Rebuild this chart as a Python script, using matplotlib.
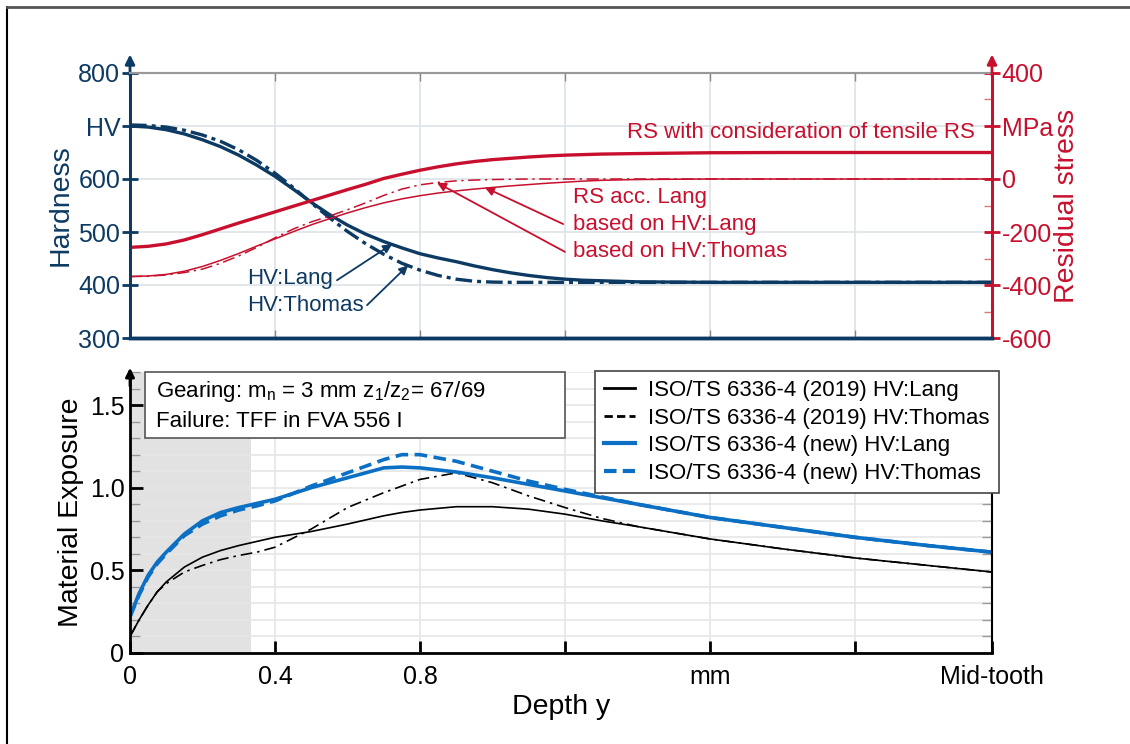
import numpy as np
import matplotlib
matplotlib.use("Agg")
from matplotlib import pyplot as plt
from matplotlib.lines import Line2D
from matplotlib.patches import Rectangle
from matplotlib.ticker import MultipleLocator

plt.rcParams['font.family'] = ['Liberation Sans', 'DejaVu Sans']
plt.rcParams['mathtext.fontset'] = 'custom'
plt.rcParams['mathtext.rm'] = 'Liberation Sans'

navy = '#0d3a63'
red = '#c8102e'
blue = '#0b6fc4'

# ---- top panel data: hardness (HV) and residual stress (MPa) over depth (mm)
depth_top = [0, 0.05, 0.1, 0.15, 0.2, 0.25, 0.3, 0.35, 0.4, 0.45, 0.5, 0.55, 0.6, 0.65, 0.7, 0.75,
             0.8, 0.85, 0.9, 0.95, 1.0, 1.05, 1.1, 1.15, 1.2, 1.25, 1.3, 1.4, 1.6, 1.8, 2.0, 2.378]
hv_lang = [700, 698, 693, 685, 674, 661, 645, 626, 605, 581, 556, 533, 513, 496, 482, 470,
           459, 451, 444, 436, 429, 423, 418, 414, 411, 409, 408, 406, 405, 405, 405, 405]
hv_thomas = [702, 701, 698, 692, 683, 671, 655, 635, 611, 584, 555, 527, 501, 478, 458, 441,
             428, 418, 411, 407, 405.5, 405, 405, 405, 405, 405, 405, 405, 405, 405, 405, 405]
rs_tensile = [-258, -254, -245, -230, -210, -188, -166, -145, -124, -103, -82, -61, -40, -20, 2, 18,
              33, 46, 57, 66, 73, 78, 83, 87, 90, 92, 94, 96, 99, 100, 100, 100]
rs_lang = [-368, -366, -360, -348, -330, -307, -281, -253, -226, -199, -173, -150, -128, -108, -90, -75,
           -63, -53, -45, -38, -32, -26, -21, -16, -12, -8, -5, -2, 0, 0, 0, 0]
rs_thomas = [-368, -367, -362, -353, -340, -318, -290, -258, -222, -189, -162, -140, -116, -90, -62, -38,
             -22, -13, -7, -4, -2, -1, 0, 0, 0, 0, 0, 0, 0, 0, 0, 0]

# ---- bottom panel data: material exposure over depth
depth = [0, 0.025, 0.05, 0.075, 0.1, 0.15, 0.2, 0.25, 0.3, 0.35, 0.4, 0.5, 0.6, 0.7, 0.75,
         0.8, 0.9, 1.0, 1.1, 1.2, 1.3, 1.4, 1.6, 1.8, 2.0, 2.2, 2.378]
me_2019_lang = [0.10, 0.20, 0.29, 0.37, 0.43, 0.52, 0.58, 0.62, 0.65, 0.675, 0.70, 0.735, 0.78, 0.83, 0.85,
                0.865, 0.885, 0.885, 0.87, 0.84, 0.80, 0.765, 0.69, 0.63, 0.575, 0.53, 0.49]
me_2019_thomas = [0.10, 0.20, 0.29, 0.37, 0.42, 0.49, 0.53, 0.565, 0.59, 0.61, 0.64, 0.75, 0.88, 0.97, 1.01,
                  1.05, 1.09, 1.03, 0.95, 0.88, 0.815, 0.765, 0.69, 0.63, 0.575, 0.53, 0.49]
me_new_lang = [0.22, 0.36, 0.47, 0.55, 0.61, 0.72, 0.80, 0.85, 0.88, 0.905, 0.93, 1.0, 1.06, 1.12, 1.125,
               1.12, 1.095, 1.06, 1.02, 0.98, 0.94, 0.90, 0.82, 0.76, 0.70, 0.65, 0.61]
me_new_thomas = [0.22, 0.35, 0.46, 0.54, 0.60, 0.71, 0.78, 0.83, 0.865, 0.89, 0.92, 1.01, 1.09, 1.17, 1.20,
                 1.20, 1.16, 1.10, 1.04, 0.99, 0.945, 0.90, 0.82, 0.76, 0.70, 0.65, 0.61]

x_ticks = [0, 0.4, 0.8, 1.2, 1.6, 2.0, 2.378]
x_labels = ['0', '0.4', '0.8', '', 'mm', '', 'Mid-tooth']
legend_labels = ['ISO/TS 6336-4 (2019) HV:Lang', 'ISO/TS 6336-4 (2019) HV:Thomas',
                 'ISO/TS 6336-4 (new) HV:Lang', 'ISO/TS 6336-4 (new) HV:Thomas']

W, H = 1130, 744
fig = plt.figure(figsize=(W / 100, H / 100), dpi=100)

def fx(px):
    return px / W

def fy(py):
    return 1 - py / H

# ================= top panel =================
ax1 = fig.add_axes([fx(130), fy(338), fx(992) - fx(130), fy(73) - fy(338)])
ax1r = ax1.twinx()
ax1.set_xlim(0, 2.378)
ax1.set_ylim(300, 800)
ax1r.set_ylim(-600, 400)

ax1.plot(depth_top, hv_lang, color=navy, lw=2.4, solid_capstyle='butt', zorder=3)
ax1.plot(depth_top, hv_thomas, color=navy, lw=2.4, ls=(0, (5, 1.5, 1.2, 1.5)), zorder=3)
ax1r.plot(depth_top, rs_tensile, color=red, lw=2.4)
ax1r.plot(depth_top, rs_lang, color=red, lw=1.1)
ax1r.plot(depth_top, rs_thomas, color=red, lw=1.1, ls=(0, (8, 3, 1.5, 3)))

ax1.set_yticks([300, 400, 500, 600, 700, 800])
ax1.set_yticklabels(['300', '400', '500', '600', 'HV', '800'])
ax1.set_xticks([0.4, 0.8, 1.2, 1.6, 2.0])
ax1.set_xticklabels([])
ax1.tick_params(axis='y', direction='inout', length=12, width=2, color=navy,
                labelcolor=navy, labelsize=18, pad=1)
ax1.tick_params(axis='x', direction='in', length=6, width=1, color='#888888', top=True)
ax1.grid(True, color='#dde3e8', lw=1.2)
ax1.set_axisbelow(True)
ax1.set_ylabel('Hardness', color=navy, fontsize=20.5, labelpad=3)

ax1r.set_yticks([-600, -400, -200, 0, 200, 400])
ax1r.set_yticklabels(['-600', '-400', '-200', '0', 'MPa', '400'])
ax1r.yaxis.set_minor_locator(MultipleLocator(100))
ax1r.tick_params(axis='y', which='major', direction='inout', length=12, width=2, color=red,
                 labelcolor=red, labelsize=18, pad=1)
ax1r.tick_params(axis='y', which='minor', direction='in', length=6, width=1, color='#d77')
ax1r.set_ylabel('Residual stress', color=red, fontsize=20.5, labelpad=1)

for a in (ax1, ax1r):
    a.spines['top'].set_color('#999999')
    a.spines['top'].set_linewidth(1.5)
    a.spines['bottom'].set_color(navy)
    a.spines['bottom'].set_linewidth(2.5)
    a.spines['left'].set_color(navy)
    a.spines['left'].set_linewidth(2)
    a.spines['right'].set_color(red)
    a.spines['right'].set_linewidth(2)

ax1.annotate('', xy=(0, 1.07), xytext=(0, 0.99), xycoords='axes fraction',
             arrowprops=dict(arrowstyle='-|>', color=navy, lw=2, mutation_scale=14, shrinkA=0, shrinkB=0))
ax1r.annotate('', xy=(1, 1.07), xytext=(1, 0.99), xycoords='axes fraction',
              arrowprops=dict(arrowstyle='-|>', color=red, lw=2, mutation_scale=14, shrinkA=0, shrinkB=0))

# annotations
ax1r.text(2.331, 174, 'RS with consideration of tensile RS', color=red, fontsize=16,
          ha='right', va='center')
ax1r.text(1.222, -68, 'RS acc. Lang', color=red, fontsize=16, ha='left', va='center')
ax1r.text(1.222, -170, 'based on HV:Lang', color=red, fontsize=16, ha='left', va='center')
ax1r.text(1.222, -272, 'based on HV:Thomas', color=red, fontsize=16, ha='left', va='center')
arr_red = dict(arrowstyle='-|>', color=red, lw=1.3, mutation_scale=13, shrinkA=0, shrinkB=0)
ax1r.annotate('', xy=(0.979, -32), xytext=(1.195, -170), arrowprops=arr_red)
ax1r.annotate('', xy=(0.847, -14), xytext=(1.2, -275), arrowprops=arr_red)

ax1.text(0.323, 413, 'HV:Lang', color=navy, fontsize=16, ha='left', va='center')
ax1.text(0.323, 362, 'HV:Thomas', color=navy, fontsize=16, ha='left', va='center')
arr_navy = dict(arrowstyle='-|>', color=navy, lw=1.3, mutation_scale=13, shrinkA=0, shrinkB=0)
ax1.annotate('', xy=(0.723, 477), xytext=(0.571, 409), arrowprops=arr_navy)
ax1.annotate('', xy=(0.767, 437), xytext=(0.654, 362), arrowprops=arr_navy)

# ================= bottom panel =================
ax2 = fig.add_axes([fx(130), fy(653), fx(992) - fx(130), fy(372) - fy(653)])
ax2.set_xlim(0, 2.378)
ax2.set_ylim(0, 1.7)
ax2.axvspan(0, 0.334, color='#e2e2e2', zorder=0.2, lw=0)

ax2.plot(depth, me_2019_lang, color='black', lw=1.2)
ax2.plot(depth, me_2019_thomas, color='black', lw=1.2, ls=(0, (7, 3, 1.5, 3)))
ax2.plot(depth, me_new_lang, color=blue, lw=2.6)
ax2.plot(depth, me_new_thomas, color=blue, lw=2.6, ls=(0, (3.5, 1.8)))

ax2.set_xticks(x_ticks)
ax2.set_xticklabels(x_labels)
ax2.set_yticks([0, 0.5, 1.0, 1.5])
ax2.set_yticklabels(['0', '0.5', '1.0', '1.5'])
ax2.yaxis.set_minor_locator(MultipleLocator(0.1))
ax2.tick_params(which='major', direction='in', length=9, width=2, labelsize=18)
ax2.tick_params(axis='x', which='major', pad=9)
ax2.tick_params(axis='y', which='major', pad=4)
ax2.tick_params(axis='y', which='minor', direction='in', length=7, width=1, color='#999999',
                left=True, right=True)
ax2.grid(True, axis='y', which='both', color='#e6e6e6', lw=1.2)
ax2.grid(True, axis='x', which='major', color='#e6e6e6', lw=1.2)
ax2.set_axisbelow(True)
ax2.spines['top'].set_visible(False)
ax2.spines['bottom'].set_linewidth(2)
ax2.spines['left'].set_linewidth(2)
ax2.spines['right'].set_linewidth(1.5)
ax2.set_xlabel('Depth y', fontsize=20.5, labelpad=3)
ax2.set_ylabel('Material Exposure', fontsize=20.5, labelpad=4)
ax2.annotate('', xy=(0, 1.015), xytext=(0, 0.95), xycoords='axes fraction',
             arrowprops=dict(arrowstyle='-|>', color='black', lw=2, mutation_scale=13, shrinkA=0, shrinkB=0))

handles = [Line2D([], [], color='black', lw=2),
           Line2D([], [], color='black', lw=2, ls=(0, (3, 1.5))),
           Line2D([], [], color=blue, lw=3),
           Line2D([], [], color=blue, lw=3, ls=(0, (3, 1.5)))]
leg = ax2.legend(handles, legend_labels, loc='upper left', bbox_to_anchor=(fx(595), fy(371)),
                 bbox_transform=fig.transFigure, fontsize=16, fancybox=False, framealpha=1,
                 edgecolor='#444444', handlelength=1.4, handletextpad=0.6, labelspacing=0.3,
                 borderpad=0.4, borderaxespad=0)
leg.get_frame().set_linewidth(1.2)

# info box
fig.add_artist(Rectangle((fx(145), fy(438)), fx(565) - fx(145), fy(372) - fy(438),
                         transform=fig.transFigure, fc='white', ec='#555555', lw=1.2, zorder=5))
fig.text(fx(156), fy(392), r'Gearing: $\mathregular{m_n}$ = 3 mm $\mathregular{z_1/z_2}$= 67/69',
         fontsize=16, va='center', ha='left', zorder=6)
fig.text(fx(156), fy(421), 'Failure: TFF in FVA 556 I', fontsize=16, va='center', ha='left', zorder=6)

# picture frame
fig.add_artist(Line2D([fx(7), fx(7)], [0, fy(7)], color='black', lw=1.5, transform=fig.transFigure))
fig.add_artist(Line2D([fx(7), 1], [fy(7), fy(7)], color='#555555', lw=2, transform=fig.transFigure))

fig.savefig('out.png', dpi=100)
